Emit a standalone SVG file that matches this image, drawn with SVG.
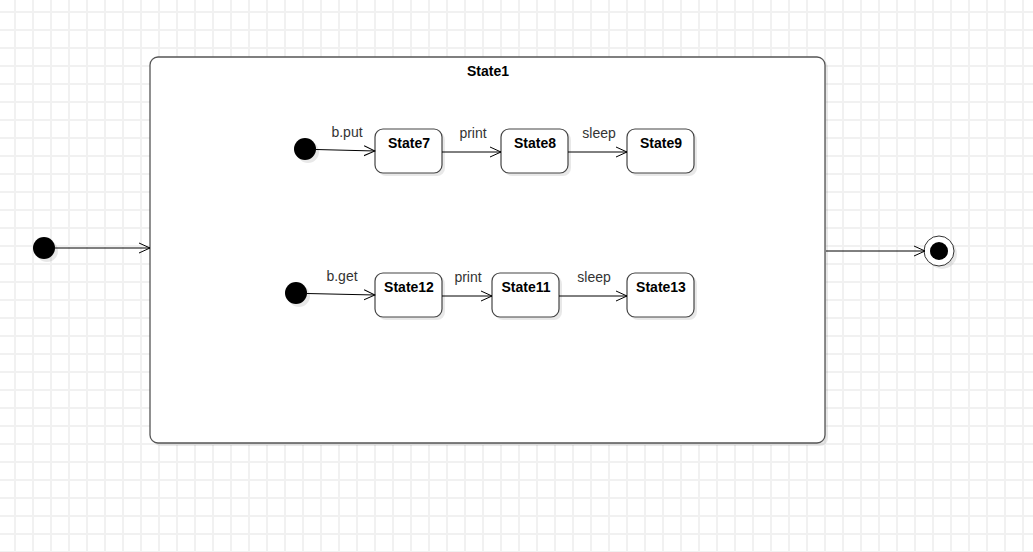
<svg xmlns="http://www.w3.org/2000/svg" width="1033" height="552" viewBox="0 0 1033 552">
<defs>
<pattern id="grid" x="14" y="11" width="18" height="18" patternUnits="userSpaceOnUse">
<path d="M1 0V18M0 1H18" stroke="#f1f1f1" stroke-width="2" fill="none"/>
</pattern>
<marker id="arr" viewBox="0 0 12 12" refX="11" refY="6" markerWidth="12" markerHeight="12" markerUnits="userSpaceOnUse" orient="auto">
<path d="M0 1L11 6L0 11" fill="none" stroke="#000" stroke-width="1"/>
</marker>
</defs>
<style>
.st{fill:#fff;stroke:#444;stroke-width:1.2}
.sh{fill:#000;opacity:0.09}
.lbl{font-family:"Liberation Sans",Arial,sans-serif;font-size:14px;font-weight:bold;fill:#000;text-anchor:middle}
.el{font-family:"Liberation Sans",Arial,sans-serif;font-size:14px;fill:#333;text-anchor:middle}
.cn{stroke:#000;stroke-width:1;fill:none;marker-end:url(#arr)}
</style>
<rect width="1033" height="552" fill="#fff"/>
<rect width="1033" height="552" fill="url(#grid)"/>

<g id="State1">
<rect class="sh" x="153" y="60" width="675" height="386" rx="8"/>
<rect x="150" y="57" width="675" height="386" rx="8" fill="#fff" stroke="#555" stroke-width="1.3"/>
<text class="lbl" x="488" y="76">State1</text>
</g>

<g id="init-outer">
<circle class="sh" cx="47" cy="251" r="11"/>
<circle cx="44" cy="248" r="11" fill="#000"/>
</g>
<g id="final">
<circle class="sh" cx="942" cy="254" r="15"/>
<circle cx="939" cy="251" r="15" fill="#fff" stroke="#333" stroke-width="1"/>
<circle cx="939" cy="251" r="9" fill="#000"/>
</g>

<g id="init-top">
<circle class="sh" cx="308" cy="152" r="11"/>
<circle cx="305" cy="149" r="11" fill="#000"/>
</g>
<g id="State7">
<rect class="sh" x="378" y="132" width="67" height="44" rx="8"/>
<rect class="st" x="375" y="129" width="67" height="44" rx="8"/>
<text class="lbl" x="409" y="148">State7</text>
</g>
<g id="State8">
<rect class="sh" x="504" y="132" width="67" height="44" rx="8"/>
<rect class="st" x="501" y="129" width="67" height="44" rx="8"/>
<text class="lbl" x="535" y="148">State8</text>
</g>
<g id="State9">
<rect class="sh" x="630" y="132" width="67" height="44" rx="8"/>
<rect class="st" x="627" y="129" width="67" height="44" rx="8"/>
<text class="lbl" x="661" y="148">State9</text>
</g>

<g id="init-bottom">
<circle class="sh" cx="299" cy="296" r="11"/>
<circle cx="296" cy="293" r="11" fill="#000"/>
</g>
<g id="State12">
<rect class="sh" x="378" y="276" width="67" height="44" rx="8"/>
<rect class="st" x="375" y="273" width="67" height="44" rx="8"/>
<text class="lbl" x="409" y="292">State12</text>
</g>
<g id="State11">
<rect class="sh" x="495" y="276" width="67" height="44" rx="8"/>
<rect class="st" x="492" y="273" width="67" height="44" rx="8"/>
<text class="lbl" x="526" y="292">State11</text>
</g>
<g id="State13">
<rect class="sh" x="630" y="276" width="67" height="44" rx="8"/>
<rect class="st" x="627" y="273" width="67" height="44" rx="8"/>
<text class="lbl" x="661" y="292">State13</text>
</g>

<g id="connectors">
<path class="cn" d="M55 248H150"/>
<path class="cn" d="M826 251H925"/>
<path class="cn" d="M316 149.5L375 151"/>
<path class="cn" d="M442 152H501"/>
<path class="cn" d="M568 152H627"/>
<path class="cn" d="M307 293.5L375 295"/>
<path class="cn" d="M442 296H492"/>
<path class="cn" d="M559 296H627"/>
<text class="el" x="347" y="137">b.put</text>
<text class="el" x="473" y="138">print</text>
<text class="el" x="599" y="138">sleep</text>
<text class="el" x="342" y="281">b.get</text>
<text class="el" x="468" y="282">print</text>
<text class="el" x="594" y="282">sleep</text>
</g>
</svg>
